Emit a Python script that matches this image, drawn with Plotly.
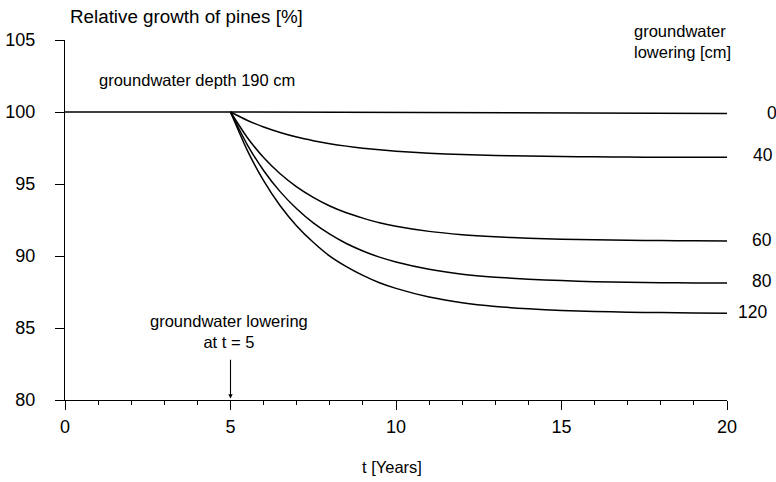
import plotly.graph_objects as go

# time axis (years)
t0 = [0, 5, 20]
t_after = [5, 5.5, 6, 6.5, 7, 7.5, 8, 8.5, 9, 9.5, 10, 11, 12, 13, 14, 15, 16, 17, 18, 19, 20]

# relative growth [%] for each groundwater lowering [cm]
g0 = [100.0, 100.0, 99.9]
g40 = [100, 99.43, 98.96, 98.58, 98.26, 98.01, 97.80, 97.63, 97.49, 97.37, 97.28, 97.14, 97.04, 96.98, 96.94, 96.91, 96.89, 96.87, 96.86, 96.86, 96.85]
g60 = [100, 98.25, 96.84, 95.71, 94.80, 94.07, 93.47, 93.00, 92.63, 92.31, 92.07, 91.71, 91.48, 91.33, 91.23, 91.17, 91.12, 91.09, 91.07, 91.06, 91.05]
g80 = [100, 97.76, 95.94, 94.47, 93.28, 92.30, 91.52, 90.87, 90.35, 89.92, 89.59, 89.08, 88.74, 88.53, 88.39, 88.29, 88.22, 88.18, 88.15, 88.13, 88.12]
g120 = [100, 97.37, 95.23, 93.49, 92.09, 90.95, 89.99, 89.26, 88.65, 88.14, 87.75, 87.15, 86.76, 86.50, 86.33, 86.22, 86.15, 86.10, 86.07, 86.05, 86.03]

labels = ["0", "40", "60", "80", "120"]
series = [(t0, g0), (t_after, g40), (t_after, g60), (t_after, g80), (t_after, g120)]
# label positions (paper fraction)
label_px = [1.068, 1.054, 1.053, 1.053, 1.039]
label_py = [0.797, 0.6806, 0.444, 0.3306, 0.2444]

FONT = "Arial, Liberation Sans, sans-serif"

fig = go.Figure()
for (tx, gy) in series:
    fig.add_trace(go.Scatter(x=tx, y=gy, mode="lines",
                             line=dict(color="black", width=1.5, shape="spline", smoothing=0.6),
                             hoverinfo="skip", showlegend=False, cliponaxis=False))

anns = []
for lab, lx, ly in zip(labels, label_px, label_py):
    anns.append(dict(x=lx, y=ly, xref="paper", yref="paper", text=lab, showarrow=False,
                     xanchor="center", yanchor="middle", font=dict(size=17.5, color="black", family=FONT)))

anns += [
    dict(x=0.0045, y=1.064, xref="paper", yref="paper", text="Relative growth of pines [%]", showarrow=False,
         xanchor="left", yanchor="middle", font=dict(size=18.8, color="black", family=FONT)),
    dict(x=0.0483, y=0.889, xref="paper", yref="paper", text="groundwater depth 190 cm", showarrow=False,
         xanchor="left", yanchor="middle", font=dict(size=16.5, color="black", family=FONT)),
    dict(x=0.8565, y=0.997, xref="paper", yref="paper", text="groundwater<br>lowering [cm]", showarrow=False,
         xanchor="left", yanchor="middle", align="left", font=dict(size=16.5, color="black", family=FONT)),
    dict(x=0.2477, y=0.1889, xref="paper", yref="paper", text="groundwater lowering<br>at t = 5", showarrow=False,
         xanchor="center", yanchor="middle", align="center", font=dict(size=16.5, color="black", family=FONT)),
    dict(x=5, y=80.1, ax=5, ay=82.9, xref="x", yref="y", axref="x", ayref="y", text="",
         showarrow=True, arrowhead=2, arrowsize=0.8, arrowwidth=1.1, arrowcolor="black"),
    dict(x=0.494, y=-0.186, xref="paper", yref="paper", text="t [Years]", showarrow=False,
         xanchor="center", yanchor="middle", font=dict(size=16.5, color="black", family=FONT)),
]

fig.update_layout(
    width=776, height=482,
    margin=dict(l=65, r=49, t=40, b=82),
    paper_bgcolor="white", plot_bgcolor="white",
    font=dict(family=FONT, size=18, color="black"),
    annotations=anns,
    showlegend=False,
)
fig.update_xaxes(range=[0, 20], tickmode="array", tickvals=[0, 5, 10, 15, 20],
                 showline=True, linecolor="black", linewidth=1.3, mirror=False,
                 ticks="outside", ticklen=9, tickwidth=1.3, tickcolor="black",
                 minor=dict(tickmode="linear", tick0=0, dtick=1, ticks="outside", ticklen=4, tickwidth=1.2, tickcolor="black"),
                 showgrid=False, zeroline=False, ticklabelstandoff=1, automargin=False,
                 tickfont=dict(size=18, family=FONT, color="black"))
fig.update_yaxes(range=[80, 105], tickmode="array", tickvals=[80, 85, 90, 95, 100, 105],
                 showline=True, linecolor="black", linewidth=1.3,
                 ticks="outside", ticklen=9, tickwidth=1.3, tickcolor="black",
                 showgrid=False, zeroline=False, ticklabelstandoff=16, automargin=False,
                 tickfont=dict(size=18, family=FONT, color="black"))

fig.write_html("out.html")
